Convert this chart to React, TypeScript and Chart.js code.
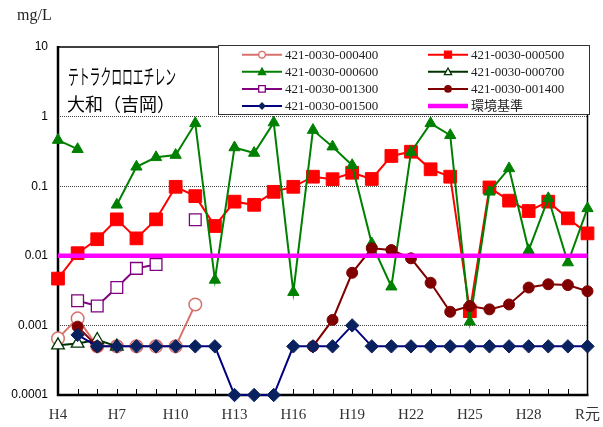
import React, { useEffect, useRef } from 'react';
import { Chart, registerables } from 'chart.js';

Chart.register(...registerables);

// ---------- data ----------
const categories = [
  'H4', 'H5', 'H6', 'H7', 'H8', 'H9', 'H10', 'H11', 'H12', 'H13', 'H14', 'H15', 'H16', 'H17',
  'H18', 'H19', 'H20', 'H21', 'H22', 'H23', 'H24', 'H25', 'H26', 'H27', 'H28', 'H29', 'H30', 'R元',
];
const xTickLabels = ['H4', 'H7', 'H10', 'H13', 'H16', 'H19', 'H22', 'H25', 'H28', 'R元'];
const yTickValues = [0.0001, 0.001, 0.01, 0.1, 1, 10];
const yTickLabels = ['0.0001', '0.001', '0.01', '0.1', '1', '10'];

const unitLabel = 'mg/L';
const titleLine1 = 'テトラクロロエチレン';
const titleLine2 = '大和（吉岡）';

const seriesNames = [
  '421-0030-000400', '421-0030-000500', '421-0030-000600', '421-0030-000700',
  '421-0030-001300', '421-0030-001400', '421-0030-001500', '環境基準',
];

const s000400 = [0.00065, 0.00126, 0.0005, 0.0005, 0.0005, 0.0005, 0.0005, 0.002, null, null, null, null, null, null,
  null, null, null, null, null, null, null, null, null, null, null, null, null, null];
const s000500 = [0.0047, 0.0109, 0.0173, 0.0334, 0.0178, 0.0334, 0.098, 0.072, 0.0268, 0.06, 0.054, 0.083, 0.098, 0.137,
  0.126, 0.156, 0.127, 0.272, 0.313, 0.175, 0.137, 0.0016, 0.096, 0.062, 0.044, 0.06, 0.0345, 0.021];
const s000600 = [0.46, 0.34, null, 0.054, 0.19, 0.26, 0.28, 0.8, 0.0045, 0.36, 0.3, 0.82, 0.003, 0.64,
  0.37, 0.2, 0.015, 0.0036, 0.31, 0.8, 0.54, 0.00113, 0.083, 0.18, 0.012, 0.067, 0.008, 0.048];
const s000700 = [0.00052, 0.00055, 0.00062, 0.0005, null, null, null, null, null, null, null, null, null, null,
  null, null, null, null, null, null, null, null, null, null, null, null, null, null];
const s001300 = [null, 0.00226, 0.0019, 0.0035, 0.0066, 0.0075, null, 0.033, null, null, null, null, null, null,
  null, null, null, null, null, null, null, null, null, null, null, null, null, null];
const s001400 = [null, 0.00096, 0.0005, null, null, null, null, null, null, null, null, null, null, 0.0005,
  0.0012, 0.0057, 0.0128, 0.0121, 0.0092, 0.0041, 0.00157, 0.0019, 0.0017, 0.002, 0.0035, 0.0039, 0.0038, 0.0031];
const s001500 = [null, 0.00073, 0.0005, 0.0005, 0.0005, 0.0005, 0.0005, 0.0005, 0.0005, 0.0001, 0.0001, 0.0001, 0.0005, 0.0005,
  0.0005, 0.001, 0.0005, 0.0005, 0.0005, 0.0005, 0.0005, 0.0005, 0.0005, 0.0005, 0.0005, 0.0005, 0.0005, 0.0005];
const sStandard = [0.01, 0.01, 0.01, 0.01, 0.01, 0.01, 0.01, 0.01, 0.01, 0.01, 0.01, 0.01, 0.01, 0.01,
  0.01, 0.01, 0.01, 0.01, 0.01, 0.01, 0.01, 0.01, 0.01, 0.01, 0.01, 0.01, 0.01, 0.01];

const seriesData = [s000400, s000500, s000600, s000700, s001300, s001400, s001500, sStandard];

// ---------- styles ----------
type Sty = { line: string; shape: string | null; r: number; fill: string; stroke: string; pbw: number; lw: number; lr: number };
const styles: Sty[] = [
  { line: '#d8716b', shape: 'circle', r: 6.3, fill: '#ffffff', stroke: '#d8716b', pbw: 1.5, lw: 2, lr: 3.3 },
  { line: '#ff0000', shape: 'rect', r: 9, fill: '#ff0000', stroke: '#ff0000', pbw: 1, lw: 2, lr: 3.5 },
  { line: '#008000', shape: 'triangle', r: 6.5, fill: '#008000', stroke: '#008000', pbw: 1, lw: 2, lr: 3.8 },
  { line: '#003300', shape: 'triangle', r: 7.3, fill: '#ffffff', stroke: '#003300', pbw: 1.3, lw: 2, lr: 3.8 },
  { line: '#800080', shape: 'rect', r: 8.3, fill: '#ffffff', stroke: '#800080', pbw: 1.3, lw: 2, lr: 3.3 },
  { line: '#800000', shape: 'circle', r: 5.5, fill: '#800000', stroke: '#800000', pbw: 1, lw: 2, lr: 3.2 },
  { line: '#000080', shape: 'rectRot', r: 6.7, fill: '#0a215f', stroke: '#0a215f', pbw: 1, lw: 2, lr: 3 },
  { line: '#ff00ff', shape: null, r: 0, fill: '#ff00ff', stroke: '#ff00ff', pbw: 0, lw: 4.5, lr: 0 },
];

const SERIF = "'Liberation Serif', 'Noto Sans CJK JP', serif";
const CJK = "'Noto Sans CJK JP', sans-serif";

function drawMarker(ctx: CanvasRenderingContext2D, shape: string, x: number, y: number, r: number, fill: string, stroke: string, bw: number) {
  ctx.beginPath();
  if (shape === 'circle') {
    ctx.arc(x, y, r, 0, Math.PI * 2);
  } else if (shape === 'rect') {
    ctx.rect(x - r, y - r, 2 * r, 2 * r);
  } else if (shape === 'triangle') {
    ctx.moveTo(x, y - r);
    ctx.lineTo(x + r * 0.95, y + r * 0.75);
    ctx.lineTo(x - r * 0.95, y + r * 0.75);
    ctx.closePath();
  } else if (shape === 'rectRot') {
    ctx.moveTo(x, y - r);
    ctx.lineTo(x + r, y);
    ctx.lineTo(x, y + r);
    ctx.lineTo(x - r, y);
    ctx.closePath();
  }
  ctx.fillStyle = fill;
  ctx.fill();
  ctx.lineWidth = bw;
  ctx.strokeStyle = stroke;
  ctx.stroke();
}

const decorPlugin = {
  id: 'decor',
  beforeDatasetsDraw(chart: any) {
    const { ctx, chartArea: a, scales } = chart;
    const xs = scales.x;
    ctx.save();
    // inside tick marks on x axis
    ctx.strokeStyle = '#000';
    ctx.lineWidth = 1;
    categories.forEach((_c, i) => {
      const x = Math.round(xs.getPixelForValue(i)) + 0.5;
      ctx.beginPath();
      ctx.moveTo(x, a.bottom);
      ctx.lineTo(x, a.bottom - 6);
      ctx.stroke();
    });
    // frame
    ctx.lineWidth = 1.5;
    ctx.beginPath();
    ctx.moveTo(a.left, a.top);
    ctx.lineTo(a.right, a.top);
    ctx.lineTo(a.right, a.bottom);
    ctx.stroke();
    ctx.lineWidth = 2.5;
    ctx.beginPath();
    ctx.moveTo(a.left, a.top - 1);
    ctx.lineTo(a.left, a.bottom);
    ctx.lineTo(a.right + 1, a.bottom);
    ctx.stroke();
    ctx.restore();
  },
  afterDraw(chart: any) {
    const { ctx } = chart;
    ctx.save();
    // unit
    ctx.fillStyle = '#222';
    ctx.font = `16px ${SERIF}`;
    ctx.textAlign = 'left';
    ctx.textBaseline = 'middle';
    ctx.fillText(unitLabel, 17, 16);
    // title
    ctx.fillStyle = '#000';
    ctx.font = `21px ${CJK}`;
    ctx.fillText(titleLine1, 68, 76, 108);
    ctx.font = `18px ${CJK}`;
    ctx.fillText(titleLine2, 67, 104);
    // legend box
    ctx.fillStyle = '#fff';
    ctx.fillRect(218.5, 45.5, 371, 69);
    ctx.strokeStyle = '#333';
    ctx.lineWidth = 1;
    ctx.strokeRect(218.5, 45.5, 371, 69);
    const cols = [242, 428];
    seriesNames.forEach((name, i) => {
      const st = styles[i];
      const cx = cols[i % 2];
      const cy = 54.7 + Math.floor(i / 2) * 17.1;
      ctx.strokeStyle = st.line;
      ctx.lineWidth = st.lw;
      ctx.beginPath();
      ctx.moveTo(cx, cy);
      ctx.lineTo(cx + 40, cy);
      ctx.stroke();
      if (st.shape) drawMarker(ctx, st.shape, cx + 20, cy, st.lr, st.fill, st.stroke, 1.3);
      ctx.fillStyle = '#222';
      ctx.font = `13px ${SERIF}`;
      ctx.textBaseline = 'middle';
      ctx.fillText(name, cx + 43, cy + 0.5);
    });
    ctx.restore();
  },
};

export default function App() {
  const ref = useRef<HTMLCanvasElement>(null);
  useEffect(() => {
    const n = seriesData.length;
    const datasets = seriesData.map((d, i) => {
      const st = styles[i];
      return {
        label: seriesNames[i],
        data: d,
        order: n - i,
        borderColor: st.line,
        backgroundColor: st.line,
        borderWidth: st.lw,
        pointStyle: (st.shape || 'circle') as any,
        pointRadius: st.r,
        pointHoverRadius: st.r,
        pointBackgroundColor: st.fill,
        pointBorderColor: st.stroke,
        pointBorderWidth: st.pbw,
        spanGaps: false,
        tension: 0,
        clip: false as any,
      };
    });
    const chart = new Chart(ref.current as HTMLCanvasElement, {
      type: 'line',
      data: { labels: categories, datasets },
      plugins: [decorPlugin as any],
      options: {
        animation: false,
        responsive: false,
        devicePixelRatio: 1,
        events: [],
        layout: { padding: { top: 47, right: 15, left: 0, bottom: 0 } },
        plugins: { legend: { display: false }, title: { display: false }, tooltip: { enabled: false } },
        scales: {
          x: {
            type: 'category',
            offset: false,
            grid: { display: false },
            border: { display: false },
            ticks: {
              autoSkip: false,
              maxRotation: 0,
              minRotation: 0,
              padding: 3,
              color: '#333',
              font: { family: SERIF, size: 15 },
              callback: (_v: any, i: number) => (xTickLabels.includes(categories[i]) ? categories[i] : ''),
            },
            afterFit: (s: any) => { s.height = 32; },
          },
          y: {
            type: 'logarithmic',
            min: 0.0001,
            max: 10,
            afterBuildTicks: (s: any) => { s.ticks = yTickValues.map((v) => ({ value: v })); },
            grid: {
              drawTicks: false,
              lineWidth: 1,
              color: (c: any) => (c.tick && (c.tick.value === 10 || c.tick.value === 0.0001) ? 'rgba(0,0,0,0)' : '#444'),
            },
            border: { display: false, dash: [1, 1] },
            ticks: {
              padding: 10,
              color: '#000',
              font: { family: "'Liberation Sans', Arial, sans-serif", size: 12 },
              callback: (v: any) => {
                const k = yTickValues.indexOf(Number(v));
                return k >= 0 ? yTickLabels[k] : '';
              },
            },
            afterFit: (s: any) => { s.width = 58; },
          },
        },
      },
    });
    return () => chart.destroy();
  }, []);
  return (
    <div style={{ position: 'fixed', left: 0, top: 0, width: 603, height: 427, background: '#fff' }}>
      <canvas ref={ref} width={603} height={427} style={{ display: 'block', width: 603, height: 427 }} />
    </div>
  );
}
